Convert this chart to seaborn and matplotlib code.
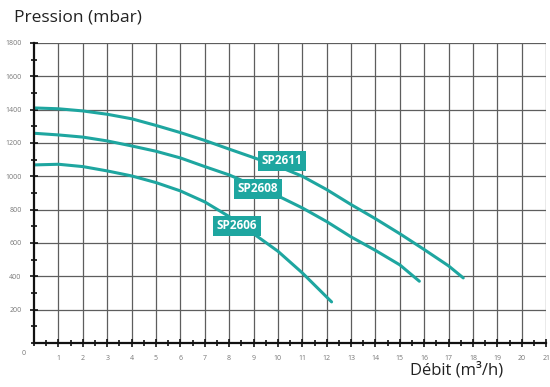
import seaborn as sns
import pandas as pd
import matplotlib
matplotlib.use('Agg')
import matplotlib.pyplot as plt
from matplotlib.ticker import MultipleLocator

# courbes (debit m3/h, pression mbar)
sp2611_x = [0, 1, 2, 3, 4, 5, 6, 7, 8, 9, 10, 11, 12, 13, 14, 15, 16, 17, 17.6]
sp2611_y = [1410, 1405, 1392, 1372, 1345, 1305, 1262, 1215, 1163, 1112, 1060, 1000, 920, 830, 745, 655, 560, 462, 390]

sp2608_x = [0, 1, 2, 3, 4, 5, 6, 7, 8, 9, 10, 11, 12, 13, 14, 15, 15.8]
sp2608_y = [1258, 1248, 1235, 1212, 1182, 1150, 1110, 1058, 1008, 945, 882, 810, 728, 636, 555, 468, 370]

sp2606_x = [0, 1, 2, 3, 4, 5, 6, 7, 8, 9, 10, 11, 12.2]
sp2606_y = [1068, 1072, 1058, 1032, 1002, 962, 912, 846, 758, 655, 550, 420, 246]

models = ['SP2611', 'SP2608', 'SP2606']
label_pos = {'SP2611': (10.15, 1092), 'SP2608': (9.18, 924), 'SP2606': (8.32, 702)}

x_ticks = list(range(1, 22))
y_ticks = list(range(200, 1801, 200))

TEAL = '#1ea6a0'

frames = []
for name, xs, ys in zip(models, [sp2611_x, sp2608_x, sp2606_x], [sp2611_y, sp2608_y, sp2606_y]):
    frames.append(pd.DataFrame({'debit': xs, 'pression': ys, 'modele': name}))
data = pd.concat(frames, ignore_index=True)

sns.set_style('white')
plt.rcParams['font.family'] = ['Open Sans', 'DejaVu Sans']

fig = plt.figure(figsize=(5.5, 3.87), dpi=100)
ax = fig.add_axes([0.062, 0.114, 0.931, 0.775])

sns.lineplot(
    data=data, x='debit', y='pression', units='modele', estimator=None,
    color=TEAL, linewidth=2.2, ax=ax, legend=False, sort=False,
)

for name in models:
    lx, ly = label_pos[name]
    ax.text(lx, ly, name, color='white', fontsize=8.5, fontweight='bold',
            ha='center', va='center', zorder=5,
            bbox=dict(boxstyle='square,pad=0.3', fc=TEAL, ec='none'))

ax.set_xlim(0, 21)
ax.set_ylim(0, 1800)
ax.set_xticks(x_ticks)
ax.set_yticks(y_ticks)
ax.xaxis.set_minor_locator(MultipleLocator(0.5))
ax.yaxis.set_minor_locator(MultipleLocator(100))
ax.tick_params(axis='both', which='both', direction='inout', color='#111111',
               labelcolor='#777777', labelsize=5, width=1.2,
               bottom=True, left=True, top=False, right=False)
ax.tick_params(axis='both', which='major', length=6, pad=6)
ax.tick_params(axis='both', which='minor', length=5)
ax.grid(True, which='major', color='#5e5e5e', linewidth=0.9)
ax.set_axisbelow(True)

for side in ['top', 'right']:
    ax.spines[side].set_visible(False)
for side in ['left', 'bottom']:
    ax.spines[side].set_color('#111111')
    ax.spines[side].set_linewidth(1.6)
    ax.spines[side].set_zorder(3)

ax.set_xlabel('')
ax.set_ylabel('')
ax.text(-0.35, -40, '0', fontsize=5, color='#777777', ha='right', va='top')

fig.text(0.025, 0.955, 'Pression (mbar)', fontsize=12.5, color='#222222', ha='left', va='center')
fig.text(0.745, 0.022, 'Débit (m³/h)', fontsize=12, color='#222222', ha='left', va='bottom')

fig.savefig('out.png', dpi=100)
